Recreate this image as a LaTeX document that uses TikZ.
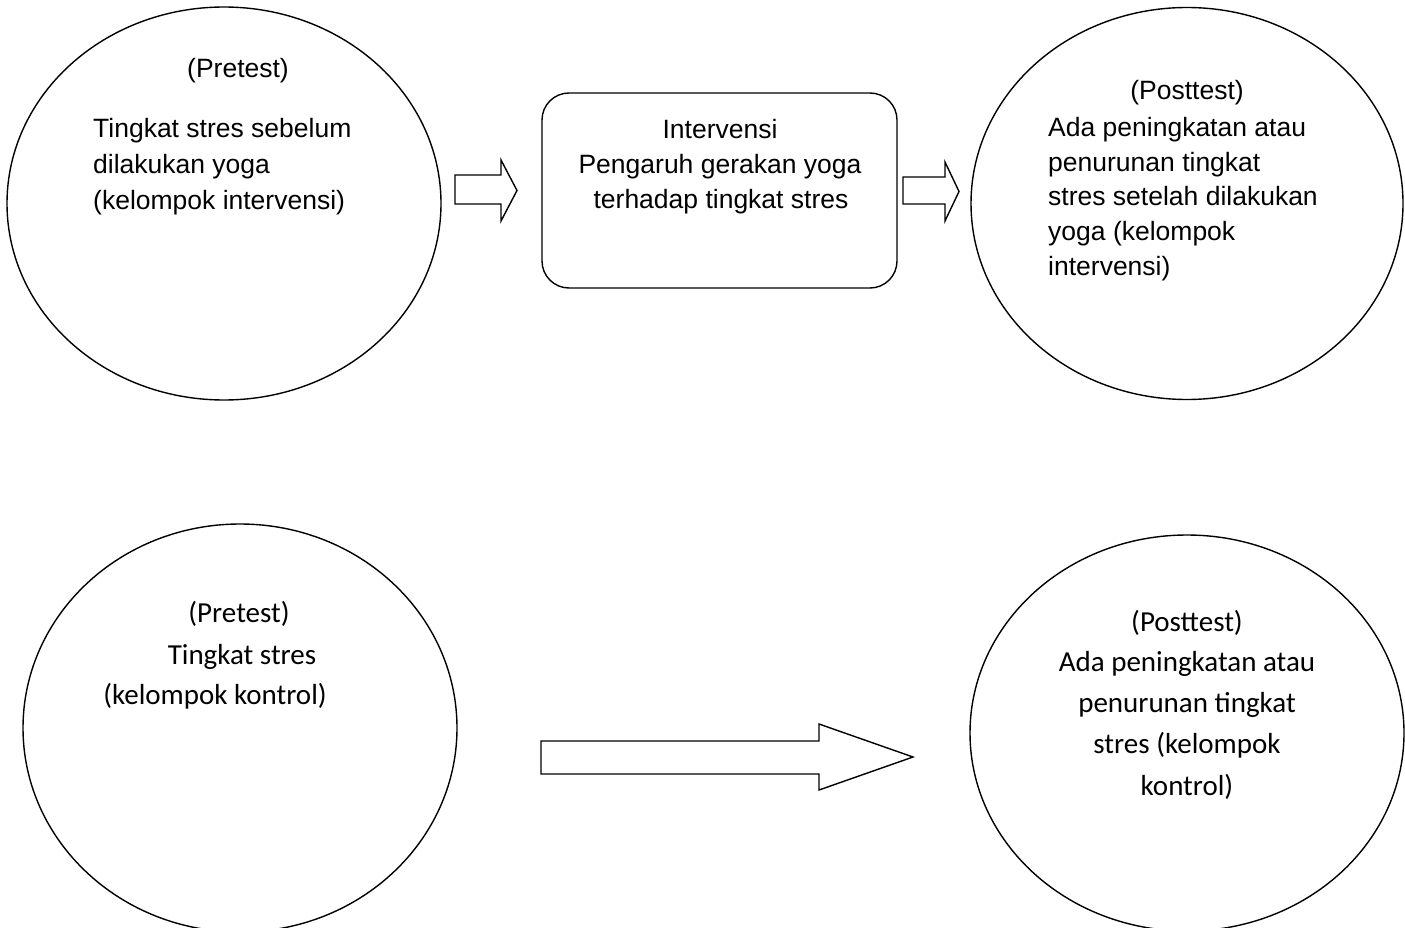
\documentclass[tikz,border=0pt]{standalone}
\usepackage{fontspec}
\setmainfont{Liberation Sans}
\newfontfamily\calibri{Carlito}
\usetikzlibrary{shapes.geometric}
\begin{document}
\begin{tikzpicture}[x=1pt,y=-1pt,
  shapeline/.style={draw=black,line width=1.4pt},
  oval/.style={shapeline,ellipse,inner sep=0pt},
  arialtxt/.style={inner sep=0pt,font=\fontsize{26.5}{35.5}\selectfont},
  calitxt/.style={inner sep=0pt,font=\calibri\fontsize{29}{41}\selectfont},
  blockarrow/.style={shapeline,fill=white,line join=miter}]
\useasboundingbox (0,0) rectangle (1405,928);
\clip (0,0) rectangle (1405,928);
\fill[white] (0,0) rectangle (1405,928);

% ellipses
\node[oval,minimum width=434pt,minimum height=393pt] (pre1) at (224,203.5) {};
\node[oval,minimum width=432pt,minimum height=392pt] (post1) at (1187,203.5) {};
\node[oval,minimum width=434pt,minimum height=408pt] (pre2) at (240,728) {};
\node[oval,minimum width=434pt,minimum height=396pt] (post2) at (1187,733) {};

% rounded box
\node[shapeline,rounded corners=27pt,minimum width=355pt,minimum height=195pt,inner sep=0pt] (interv) at (719.5,190.5) {};

% block arrows
\draw[blockarrow] (455,175) -- (501,175) -- (501,160) -- (517,190.5) -- (501,221) -- (501,204) -- (455,204) -- cycle;
\draw[blockarrow] (903,177) -- (945,177) -- (945,162) -- (959,191.5) -- (945,221) -- (945,204) -- (903,204) -- cycle;
\draw[blockarrow] (541,741) -- (819,741) -- (819,724) -- (913,757) -- (819,790) -- (819,774) -- (541,774) -- cycle;

% texts top-left
\node[arialtxt,anchor=base] (t1a) at (238,77.5) {(Pretest)};
\node[arialtxt,anchor=base west] (t1b) at (93,137.5) {Tingkat stres sebelum};
\node[arialtxt,anchor=base west] (t1c) at (93,174) {dilakukan yoga};
\node[arialtxt,anchor=base west] (t1d) at (93,209.5) {(kelompok intervensi)};

% texts middle box
\node[arialtxt,anchor=base] (t2a) at (720,138.5) {Intervensi};
\node[arialtxt,anchor=base] (t2b) at (720,173.5) {Pengaruh gerakan yoga};
\node[arialtxt,anchor=base] (t2c) at (721,208.5) {terhadap tingkat stres};

% texts top-right
\node[arialtxt,anchor=base] (t3a) at (1187,99.5) {(Posttest)};
\node[arialtxt,anchor=base west] (t3b) at (1048,136.5) {Ada peningkatan atau};
\node[arialtxt,anchor=base west] (t3c) at (1048,171.5) {penurunan tingkat};
\node[arialtxt,anchor=base west] (t3d) at (1048,205.5) {stres setelah dilakukan};
\node[arialtxt,anchor=base west] (t3e) at (1048,240.5) {yoga (kelompok};
\node[arialtxt,anchor=base west] (t3f) at (1048,275.5) {intervensi)};

% texts bottom-left
\node[calitxt,anchor=base] (t4a) at (239,622.5) {(Pretest)};
\node[calitxt,anchor=base] (t4b) at (242,664.5) {Tingkat stres};
\node[calitxt,anchor=base] (t4c) at (215,704.5) {(kelompok kontrol)};

% texts bottom-right
\node[calitxt,anchor=base] (t5a) at (1187,631.5) {(Posttest)};
\node[calitxt,anchor=base] (t5b) at (1187,671.5) {Ada peningkatan atau};
\node[calitxt,anchor=base] (t5c) at (1187,712.5) {penurunan tingkat};
\node[calitxt,anchor=base] (t5d) at (1187,753.5) {stres (kelompok};
\node[calitxt,anchor=base] (t5e) at (1187,795.5) {kontrol)};
\end{tikzpicture}
\end{document}
